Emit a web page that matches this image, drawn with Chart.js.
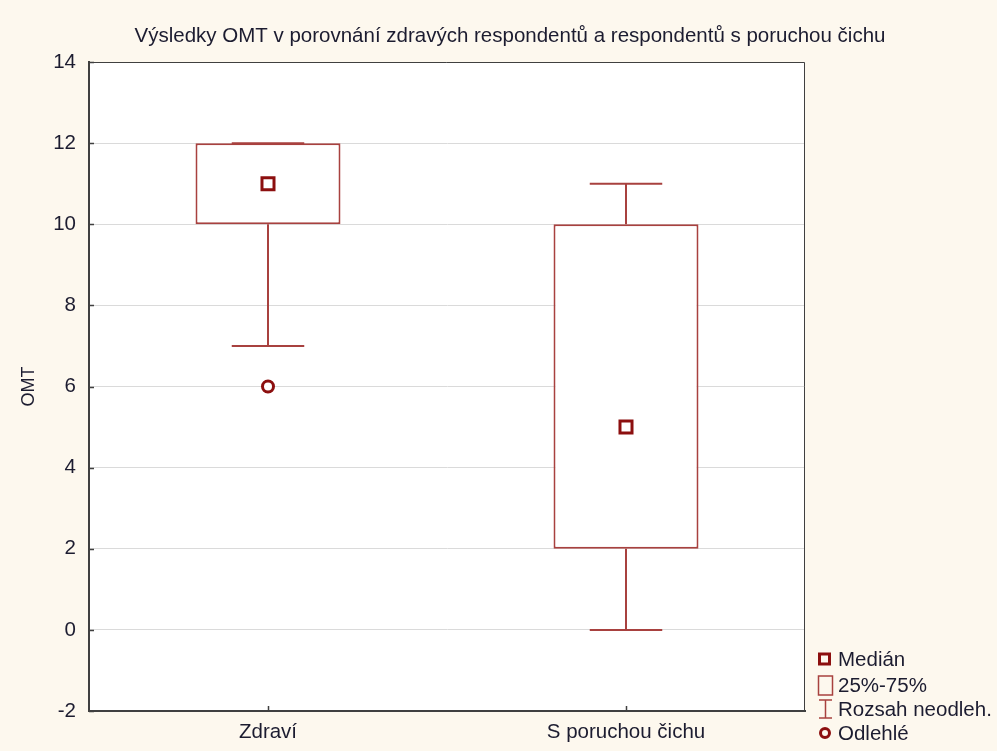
<!DOCTYPE html>
<html>
<head>
<meta charset="utf-8">
<script src="https://cdn.jsdelivr.net/npm/chart.js@4"></script>
<style>
    body { margin: 0; background: #fdf8ee; }
    #wrap { width: 997px; height: 751px; }
</style>
</head>
<body>
<div id="wrap"><canvas id="boxChart" width="997" height="751"></canvas></div>
<script>
// Box plot data
const categories = ['Zdraví', 'S poruchou čichu'];
const q1Values = [10, 2];
const q3Values = [12, 10];
const medianValues = [11, 5];
const minValues = [7, 0];
const maxValues = [12, 11];
const outlierValues = [6, null];
const yMin = -2, yMax = 14, yStep = 2;

const titleText = 'Výsledky OMT v porovnání zdravých respondentů a respondentů s poruchou čichu';
const legendLabels = ['Medián', '25%-75%', 'Rozsah neodleh.', 'Odlehlé'];

const boxColor = '#a8413f';
const medianColor = '#8c0f0f';
const textColor = '#1c1c30';
const axisColor = '#404040';
const fontFamily = '"Liberation Sans", Arial, sans-serif';

// White plot area
const plotBackground = {
    id: 'plotBackground',
    beforeDraw(chart) {
        const { ctx, chartArea: a } = chart;
        ctx.save();
        ctx.fillStyle = '#ffffff';
        ctx.fillRect(a.left, a.top, a.right - a.left, a.bottom - a.top);
        ctx.restore();
    }
};

// Whiskers, frame, ticks, title and legend
const boxExtras = {
    id: 'boxExtras',
    afterDatasetsDraw(chart) {
        const { ctx, scales } = chart;
        const meta = chart.getDatasetMeta(0);
        ctx.save();
        ctx.strokeStyle = boxColor;
        ctx.lineWidth = 2;
        meta.data.forEach((bar, i) => {
            const x = bar.x;
            const half = bar.width / 4;
            const yQ1 = scales.y.getPixelForValue(q1Values[i]);
            const yQ3 = scales.y.getPixelForValue(q3Values[i]);
            const yLo = scales.y.getPixelForValue(minValues[i]);
            const yHi = scales.y.getPixelForValue(maxValues[i]);
            ctx.beginPath();
            ctx.moveTo(x, yQ3); ctx.lineTo(x, yHi);
            ctx.moveTo(x - half, yHi); ctx.lineTo(x + half, yHi);
            ctx.moveTo(x, yQ1); ctx.lineTo(x, yLo);
            ctx.moveTo(x - half, yLo); ctx.lineTo(x + half, yLo);
            ctx.stroke();
        });
        ctx.restore();
    },
    afterDraw(chart) {
        const { ctx, chartArea: a, scales } = chart;
        ctx.save();
        // frame top/right
        ctx.strokeStyle = axisColor;
        ctx.lineWidth = 1;
        ctx.beginPath();
        ctx.moveTo(a.left, a.top + 0.5); ctx.lineTo(a.right - 0.5, a.top + 0.5);
        ctx.lineTo(a.right - 0.5, a.bottom);
        ctx.stroke();
        // inward ticks
        ctx.lineWidth = 1.5;
        ctx.beginPath();
        scales.y.ticks.forEach(t => {
            const y = Math.round(scales.y.getPixelForValue(t.value)) + 0.5;
            ctx.moveTo(a.left, y); ctx.lineTo(a.left + 5, y);
        });
        categories.forEach((c, i) => {
            const x = Math.round(scales.x.getPixelForValue(i)) + 0.5;
            ctx.moveTo(x, a.bottom); ctx.lineTo(x, a.bottom - 5);
        });
        ctx.stroke();

        // title
        ctx.fillStyle = textColor;
        ctx.font = '20.5px ' + fontFamily;
        ctx.textAlign = 'center';
        ctx.textBaseline = 'middle';
        ctx.fillText(titleText, 510, 36);

        // legend
        const lx = 818, tx = 838;
        const rows = [659, 685, 709, 733];
        ctx.textAlign = 'left';
        ctx.font = '20.5px ' + fontFamily;
        legendLabels.forEach((label, i) => {
            ctx.fillStyle = textColor;
            ctx.fillText(label, tx, rows[i] + 1);
        });
        // median icon
        ctx.strokeStyle = medianColor;
        ctx.lineWidth = 3;
        ctx.strokeRect(lx + 1.5, rows[0] - 5, 10, 10);
        // box icon
        ctx.strokeStyle = boxColor;
        ctx.lineWidth = 1.5;
        ctx.strokeRect(lx + 0.5, rows[1] - 9, 14, 19);
        // whisker icon
        ctx.beginPath();
        ctx.moveTo(lx + 7.5, rows[2] - 9); ctx.lineTo(lx + 7.5, rows[2] + 9);
        ctx.moveTo(lx + 1, rows[2] - 9); ctx.lineTo(lx + 14, rows[2] - 9);
        ctx.moveTo(lx + 1, rows[2] + 9); ctx.lineTo(lx + 14, rows[2] + 9);
        ctx.stroke();
        // outlier icon
        ctx.strokeStyle = medianColor;
        ctx.lineWidth = 3;
        ctx.beginPath();
        ctx.arc(lx + 7, rows[3], 4.5, 0, Math.PI * 2);
        ctx.stroke();
        ctx.restore();
    }
};

new Chart(document.getElementById('boxChart'), {
    type: 'bar',
    data: {
        labels: categories,
        datasets: [
            {
                label: '25%-75%',
                data: categories.map((c, i) => [q1Values[i], q3Values[i]]),
                backgroundColor: '#ffffff',
                borderColor: boxColor,
                borderWidth: 2,
                borderSkipped: false,
                barPercentage: 0.405,
                categoryPercentage: 1,
                order: 3
            },
            {
                type: 'line',
                label: 'Medián',
                data: medianValues,
                showLine: false,
                pointStyle: 'rect',
                pointRadius: 8.5,
                pointBorderWidth: 3,
                pointBorderColor: medianColor,
                pointBackgroundColor: '#ffffff',
                order: 1
            },
            {
                type: 'line',
                label: 'Odlehlé',
                data: outlierValues,
                showLine: false,
                pointStyle: 'circle',
                pointRadius: 5.5,
                pointBorderWidth: 3,
                pointBorderColor: medianColor,
                pointBackgroundColor: '#ffffff',
                order: 2
            }
        ]
    },
    options: {
        responsive: false,
        animation: false,
        layout: { padding: { top: 62, right: 192, bottom: 0, left: 0 } },
        plugins: {
            legend: { display: false },
            title: { display: false },
            tooltip: { enabled: false }
        },
        scales: {
            x: {
                grid: { display: false, drawTicks: false },
                border: { color: axisColor, width: 2 },
                ticks: { color: textColor, font: { family: fontFamily, size: 20.5 }, padding: 9 },
                afterFit: scale => { scale.height = 40; }
            },
            y: {
                min: yMin,
                max: yMax,
                grid: { color: '#dadada', drawTicks: false },
                border: { color: axisColor, width: 2 },
                ticks: { stepSize: yStep, color: textColor, font: { family: fontFamily, size: 20.5 }, padding: 13 },
                title: {
                    display: true,
                    text: 'OMT',
                    color: textColor,
                    font: { family: fontFamily, size: 18 },
                    padding: { top: 18, bottom: 0 }
                },
                afterFit: scale => { scale.width = 89; }
            }
        }
    },
    plugins: [plotBackground, boxExtras]
});
</script>
</body>
</html>
